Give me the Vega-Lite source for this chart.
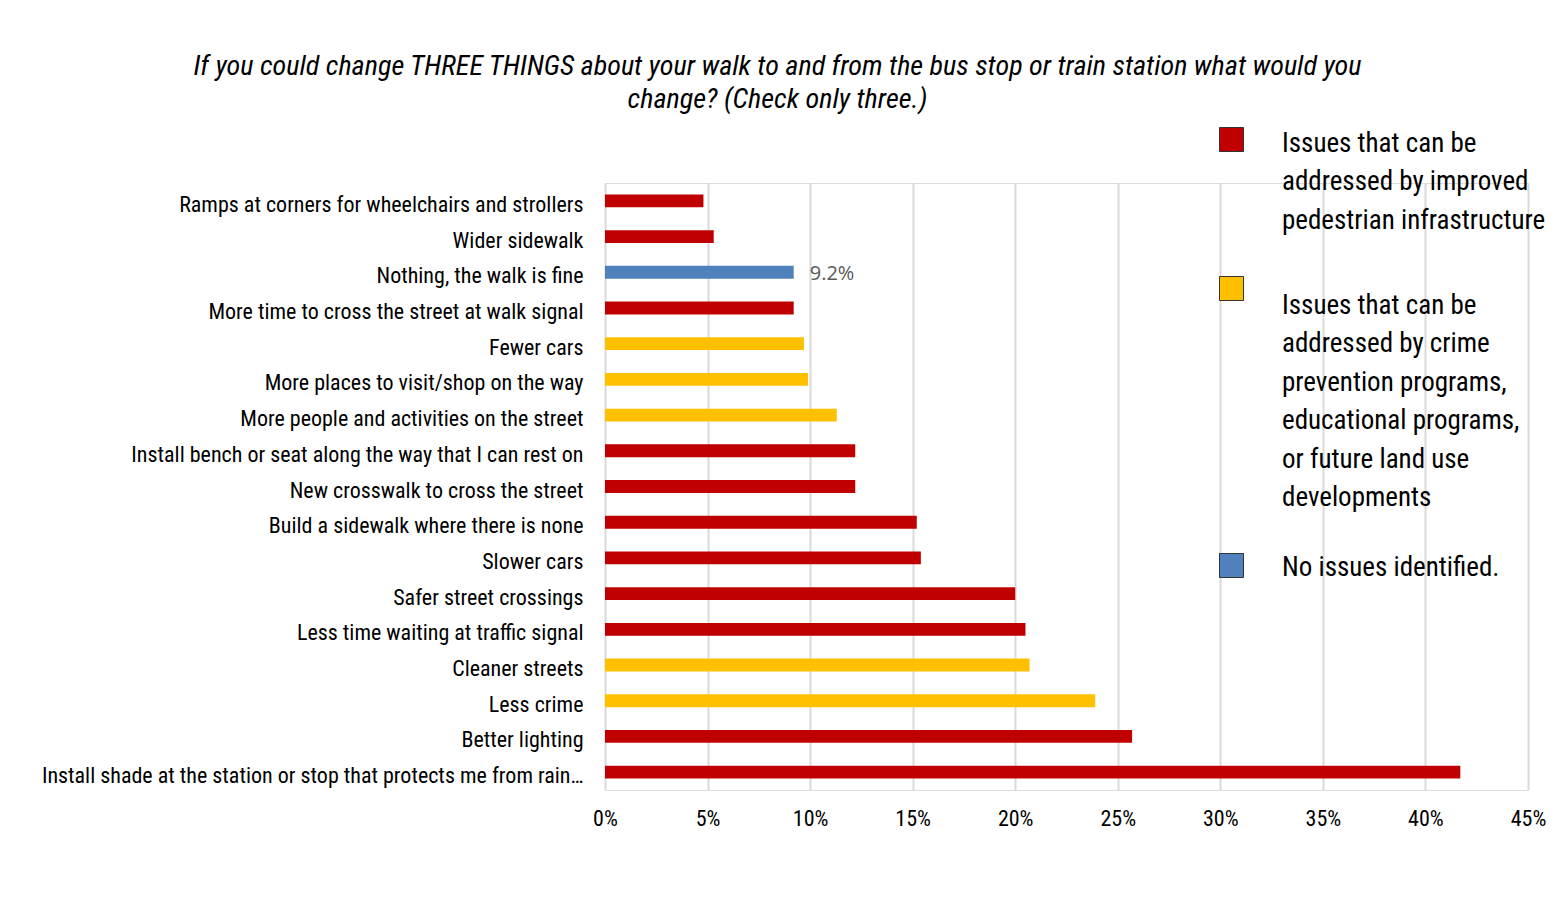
{
  "$schema": "https://vega.github.io/schema/vega-lite/v6.json",
  "autosize": {"type": "none"},
  "padding": {"left": 605, "top": 183, "right": 26, "bottom": 127},
  "width": 923,
  "height": 607,
  "background": "white",
  "title": {
    "text": ["If you could change THREE THINGS about your walk to and from the bus stop or train station what would you", "change? (Check only three.)"],
    "font": "Roboto Condensed, Liberation Sans Narrow, Roboto, sans-serif",
    "fontSize": 28.2,
    "fontStyle": "italic",
    "fontWeight": "normal",
    "color": "#000000",
    "lineHeight": 33,
    "anchor": "middle",
    "frame": "group",
    "dx": -289,
    "offset": 12
  },
  "data": {
    "values": [
      {"item": "Ramps at corners for wheelchairs and strollers", "pct": 0.048, "group": "infra"},
      {"item": "Wider sidewalk", "pct": 0.053, "group": "infra"},
      {"item": "Nothing, the walk is  fine", "pct": 0.092, "group": "none"},
      {"item": "More time to cross the street at walk signal", "pct": 0.092, "group": "infra"},
      {"item": "Fewer cars", "pct": 0.097, "group": "other"},
      {"item": "More places to visit/shop on the way", "pct": 0.099, "group": "other"},
      {"item": "More people and activities on the street", "pct": 0.113, "group": "other"},
      {"item": "Install bench or seat along the way that I can rest on", "pct": 0.122, "group": "infra"},
      {"item": "New crosswalk to cross the street", "pct": 0.122, "group": "infra"},
      {"item": "Build a sidewalk where there  is none", "pct": 0.152, "group": "infra"},
      {"item": "Slower cars", "pct": 0.154, "group": "infra"},
      {"item": "Safer street crossings", "pct": 0.200, "group": "infra"},
      {"item": "Less time waiting at traffic signal", "pct": 0.205, "group": "infra"},
      {"item": "Cleaner streets", "pct": 0.207, "group": "other"},
      {"item": "Less crime", "pct": 0.239, "group": "other"},
      {"item": "Better lighting", "pct": 0.257, "group": "infra"},
      {"item": "Install shade at the station or stop that protects me from rain or sun", "pct": 0.417, "group": "infra"}
    ]
  },
  "encoding": {
    "y": {
      "field": "item",
      "type": "nominal",
      "sort": null,
      "scale": {"paddingInner": 0.64, "paddingOuter": 0.32},
      "axis": {
        "title": null,
        "ticks": false,
        "domain": false,
        "labelFont": "Roboto Condensed, Liberation Sans Narrow, Roboto, sans-serif",
        "labelFontSize": 22,
        "labelColor": "#000000",
        "labelPadding": 22,
        "labelLimit": 546,
        "labelOffset": 4
      }
    },
    "x": {
      "field": "pct",
      "type": "quantitative",
      "scale": {"domain": [0, 0.45], "nice": false},
      "axis": {
        "title": null,
        "format": ".0%",
        "values": [0, 0.05, 0.1, 0.15, 0.2, 0.25, 0.3, 0.35, 0.4, 0.45],
        "ticks": false,
        "domain": false,
        "grid": true,
        "gridColor": "#d9d9d9",
        "gridWidth": 2,
        "labelFont": "Roboto Condensed, Liberation Sans Narrow, Roboto, sans-serif",
        "labelFontSize": 22,
        "labelColor": "#000000",
        "labelPadding": 18,
        "labelFlush": false
      }
    }
  },
  "layer": [
    {
      "mark": {"type": "bar"},
      "encoding": {
        "color": {
          "field": "group",
          "type": "nominal",
          "scale": {"domain": ["infra", "other", "none"], "range": ["#C00000", "#FFC000", "#4F81BD"]},
          "legend": {
            "title": null,
            "orient": "none",
            "legendX": 613,
            "legendY": -57,
            "padding": 0,
            "symbolType": "square",
            "symbolSize": 576,
            "symbolStrokeColor": "#333333",
            "symbolStrokeWidth": 1,
            "symbolOpacity": 1,
            "labelFont": "Roboto Condensed, Liberation Sans Narrow, Roboto, sans-serif",
            "labelFontSize": 27,
            "labelColor": "#000000",
            "labelOffset": 37,
            "labelLimit": 400,
            "labelBaseline": "alphabetic",
            "rowPadding": 40,
            "labelExpr": "datum.value == 'infra' ? ['Issues that can be', 'addressed by improved', 'pedestrian infrastructure'] : datum.value == 'other' ? ['Issues that can be', 'addressed by crime', 'prevention programs,', 'educational programs,', 'or future land use', 'developments'] : ['No issues identified.']",
            "encode": {
              "labels": {
                "update": {
                  "lineHeight": {"value": 38.5},
                  "dy": {"signal": "datum.index === 1 ? 25 : datum.index === 2 ? 10 : 12"}
                }
              }
            }
          }
        }
      }
    },
    {
      "transform": [{"filter": "datum.group == 'none'"}],
      "mark": {"type": "text", "align": "left", "baseline": "middle", "dx": 16, "dy": 2, "font": "Open Sans, Liberation Sans, sans-serif", "fontSize": 20, "color": "#595959"},
      "encoding": {
        "text": {"field": "pct", "type": "quantitative", "format": ".1%"}
      }
    }
  ]
}
